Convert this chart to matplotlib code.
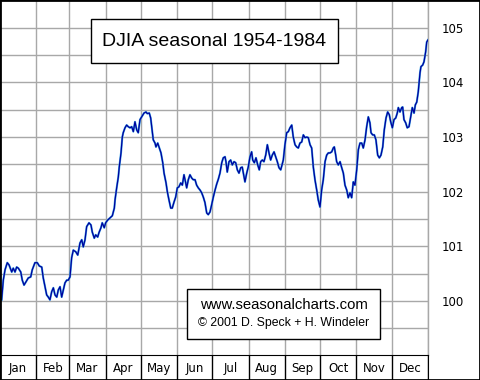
import matplotlib
matplotlib.use("Agg")
import matplotlib.pyplot as plt
from matplotlib.patches import Rectangle

title = "DJIA seasonal 1954-1984"
credit1 = "www.seasonalcharts.com"
credit2 = "\u00a9 2001 D. Speck + H. Windeler"

months = ["Jan", "Feb", "Mar", "Apr", "May", "Jun",
          "Jul", "Aug", "Sep", "Oct", "Nov", "Dec"]
month_ends = [31, 59, 90, 120, 151, 181, 212, 243, 273, 304, 334, 365]
y_labels = [100, 101, 102, 103, 104, 105]

# day of year
days = [
    1.4, 2.8, 4.3, 6.2, 7.7, 10.0, 11.3, 12.8, 14.2, 15.6, 17.7, 19.0, 20.5, 22.2,
    24.1, 26.2, 27.5, 29.8, 31.8, 33.5, 35.6, 36.9, 38.4, 39.8, 41.2, 42.6, 44.1,
    45.5, 46.9, 48.4, 49.7, 51.2, 52.6, 54.0, 55.4, 56.9, 58.2, 59.7,
    61.1, 62.5, 64.6, 66.3, 68.2, 69.7, 71.0, 72.5, 73.9, 75.9, 77.6, 78.7, 80.4,
    81.6, 83.3, 84.4, 86.1, 87.2, 88.9, 90.1, 91.8, 93.8, 95.8, 97.5, 98.1, 99.5,
    100.9, 101.7, 103.2, 104.3, 105.1, 106.6, 108.0, 109.4, 110.9, 112.3, 113.7,
    115.1, 116.6, 117.9,
    119.4, 120.8, 122.8, 124.5, 125.6, 127.3, 128.5, 129.4, 130.7, 132.2, 133.0,
    134.5, 135.9, 137.3, 138.8, 139.9, 141.6, 142.7, 144.1, 145.6, 146.9, 148.4,
    149.8, 151.2, 152.6, 154.1, 155.5, 156.9, 157.8, 159.2, 160.6, 162.0, 163.5,
    164.8, 166.3, 167.7, 169.1, 170.6, 172.0, 173.4, 174.8, 176.3, 177.6, 179.1,
    180.5, 181.9, 183.4, 184.8, 186.2,
    187.6, 189.1, 190.4, 191.9, 192.7, 193.8, 195.3, 196.7, 198.1, 199.6, 201.0,
    202.4, 203.8, 205.3, 206.6, 207.5, 208.9, 210.4, 211.7, 213.2, 214.6, 215.5,
    216.9, 218.3, 219.8, 221.1, 222.3, 223.7, 225.1, 226.6, 228.0, 229.4, 230.8,
    232.2, 233.7, 235.1, 236.5, 237.9,
    239.4, 241.6, 243.0, 244.5, 245.9, 247.3, 248.8, 250.1, 251.6, 253.0, 254.4,
    255.8, 257.3, 258.7, 260.1, 261.6, 262.9, 264.4, 265.8, 267.2, 268.6, 270.1,
    271.4, 272.9, 274.3, 275.7, 277.2, 278.6, 280.0, 281.4, 282.9, 284.2, 285.1,
    286.3, 287.1, 288.5, 290.0, 291.4, 292.8, 294.2, 295.7, 297.0,
    298.5, 299.9, 301.3, 302.7, 304.2, 305.6, 307.0, 308.5, 309.8, 311.3, 312.7,
    314.1, 315.5, 316.4, 317.8, 319.2, 320.6, 322.1, 323.5, 324.9, 326.4, 327.7,
    329.2, 330.6, 332.0, 333.2, 334.6, 336.0, 337.5, 338.8, 339.7, 341.1, 342.6,
    343.4, 344.5, 346.0, 347.3, 348.8, 350.2, 351.6, 353.1, 354.2, 355.4, 356.7,
    358.2, 359.0, 360.5, 361.6, 363.0, 363.9, 365.0,
]

djia = [
    100.02, 100.38, 100.57, 100.70, 100.66, 100.53, 100.60, 100.53, 100.62, 100.60,
    100.53, 100.38, 100.29, 100.35, 100.42, 100.44, 100.57, 100.70, 100.70, 100.64,
    100.62, 100.42, 100.26, 100.11, 100.07, 100.02, 100.17, 100.24, 100.11, 100.07,
    100.20, 100.26, 100.07, 100.20, 100.33, 100.38, 100.38, 100.44,
    100.79, 100.93, 100.90, 100.84, 101.06, 101.12, 100.99, 101.12, 101.36, 101.43,
    101.39, 101.26, 101.15, 101.21, 101.17, 101.25, 101.34, 101.43, 101.34, 101.43,
    101.48, 101.52, 101.56, 101.70, 101.85, 102.07, 102.27, 102.45, 102.71, 103.00,
    103.08, 103.17, 103.22, 103.19, 103.17, 103.19, 103.10, 103.28, 103.13, 103.08,
    103.32, 103.37, 103.44, 103.46, 103.43, 103.44, 103.35, 103.19, 102.95, 102.89,
    102.82, 102.89, 102.80, 102.71, 102.53, 102.34, 102.16, 102.00, 101.85, 101.70,
    101.70, 101.81, 101.90, 102.07, 102.09, 102.16, 102.12, 102.31, 102.22, 102.07,
    102.22, 102.31, 102.25, 102.22, 102.22, 102.12, 102.07, 102.03, 101.98, 101.90,
    101.80, 101.61, 101.58, 101.63, 101.76, 101.90, 102.03, 102.14, 102.23,
    102.34, 102.53, 102.62, 102.64, 102.55, 102.36, 102.55, 102.58, 102.49, 102.55,
    102.53, 102.40, 102.34, 102.44, 102.45, 102.34, 102.18, 102.34, 102.45, 102.64,
    102.73, 102.58, 102.53, 102.62, 102.49, 102.40, 102.55, 102.58, 102.55, 102.67,
    102.86, 102.71, 102.58, 102.67, 102.73, 102.64, 102.55, 102.44,
    102.40, 102.58, 102.86, 103.08, 103.10, 103.17, 103.22, 103.00, 102.86, 102.82,
    102.80, 102.89, 102.91, 103.04, 102.99, 103.00, 102.99, 102.86, 102.80, 102.45,
    102.22, 102.03, 101.85, 101.72, 102.03, 102.22, 102.55, 102.67, 102.71, 102.71,
    102.73, 102.80, 102.82, 102.67, 102.55, 102.49, 102.55, 102.44, 102.34, 102.12,
    102.03, 101.89,
    101.98, 101.89, 102.18, 102.12, 102.40, 102.77, 102.89, 102.89, 102.80, 102.95,
    103.19, 103.37, 103.26, 103.08, 103.04, 103.04, 102.95, 102.67, 102.62, 102.67,
    102.82, 103.13, 103.35, 103.46, 103.41, 103.28, 103.17, 103.32, 103.35, 103.44,
    103.54, 103.46, 103.54, 103.55, 103.32, 103.26, 103.17, 103.19, 103.37, 103.54,
    103.44, 103.59, 103.64, 103.83, 104.18, 104.29, 104.32, 104.38, 104.56, 104.74,
    104.78,
]

W, H = 480, 380
fig = plt.figure(figsize=(4.8, 3.8), dpi=100)
fig.patch.set_facecolor("white")

ax = fig.add_axes([0, 25 / H, 428 / W, 355 / H])
ax.set_xlim(0, 365)
ax.set_ylim(99.01, 105.51)
ax.set_facecolor("white")

grid_c = "#a8a8a8"
for m in month_ends:
    ax.axvline(m, color=grid_c, lw=1.0, zorder=1)
yv = 99.5
while yv <= 105.01:
    ax.axhline(yv, color=grid_c, lw=1.0, zorder=1)
    yv += 0.5

ax.plot(days, djia, color="#40a8e8", lw=1.5, zorder=2)
ax.plot(days, djia, color="#00009c", lw=0.9, zorder=3)

ax.yaxis.tick_right()
ax.set_yticks(y_labels)
ax.set_yticklabels([str(v) for v in y_labels], fontsize=8.5, family="DejaVu Sans")
ax.tick_params(axis="y", length=0, pad=9.5)
ax.set_xticks([])
for s in ["left", "top", "bottom"]:
    ax.spines[s].set_visible(False)
ax.spines["right"].set_color(grid_c)
ax.spines["right"].set_linewidth(1.0)

# month strip
ax2 = fig.add_axes([0, 0, 428 / W, 25 / H])
ax2.set_xlim(0, 365)
ax2.set_ylim(0, 1)
ax2.set_xticks([])
ax2.set_yticks([])
for s in ["left", "bottom"]:
    ax2.spines[s].set_visible(False)
ax2.spines["top"].set_color("black")
ax2.spines["right"].set_color("black")
starts = [0] + month_ends[:-1]
for st, en, name in zip(starts, month_ends, months):
    ax2.axvline(en, color="black", lw=1.0)
    ax2.text((st + en) / 2, 0.47, name, ha="center", va="center",
             fontsize=8.5, family="DejaVu Sans")

# title box
fig.patches.append(Rectangle((91 / W, (H - 63) / H), 247 / W, 44 / H,
                             transform=fig.transFigure, facecolor="white",
                             edgecolor="black", lw=1.0, zorder=5))
fig.text(214.5 / W, (H - 41) / H, title, ha="center", va="center",
         fontsize=14, family="Liberation Sans", zorder=6)

# credit box
fig.patches.append(Rectangle((187 / W, (H - 339) / H), 193 / W, 50 / H,
                             transform=fig.transFigure, facecolor="white",
                             edgecolor="black", lw=1.0, zorder=5))
fig.text(283.5 / W, (H - 305) / H, credit1, ha="center", va="center",
         fontsize=10.7, family="Liberation Sans", zorder=6)
fig.text(283.5 / W, (H - 323) / H, credit2, ha="center", va="center",
         fontsize=8.8, family="Liberation Sans", zorder=6)

# outer border
fig.patches.append(Rectangle((0, 0), 1, 1, transform=fig.transFigure,
                             fill=False, edgecolor="black", lw=2.0, zorder=10))

fig.savefig("out.png", dpi=100)
